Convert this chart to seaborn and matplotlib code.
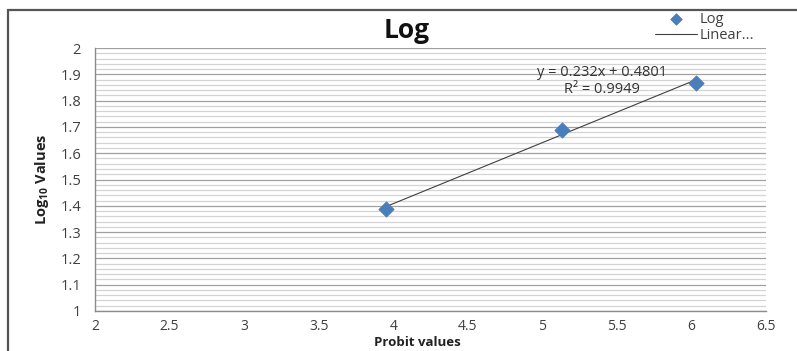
import matplotlib
matplotlib.use("Agg")
import matplotlib.pyplot as plt
from matplotlib.patches import Rectangle
from matplotlib.ticker import MultipleLocator
import seaborn as sns
import pandas as pd
import numpy as np

# data
probit = [3.95, 5.13, 6.03]
log_vals = [1.389, 1.688, 1.868]

# trendline as printed on the chart
slope = 0.232
intercept = 0.4801
r2 = 0.9949

x_ticks = [2, 2.5, 3, 3.5, 4, 4.5, 5, 5.5, 6, 6.5]
y_ticks = [1, 1.1, 1.2, 1.3, 1.4, 1.5, 1.6, 1.7, 1.8, 1.9, 2]

sns.set_theme(style="white")
plt.rcParams["font.family"] = ["Open Sans", "DejaVu Sans"]
plt.rcParams["mathtext.default"] = "regular"

df = pd.DataFrame({"Probit": probit, "Log": log_vals})
trend_x = np.array([min(probit), max(probit)])
trend = pd.DataFrame({"x": trend_x, "y": slope * trend_x + intercept})

fig = plt.figure(figsize=(7.97, 3.51), dpi=100)
ax = fig.add_axes([0.1192, 0.1140, 0.8419, 0.7492])

# outer chart border
fig.patches.append(Rectangle((8 / 797, -0.1), 1.2, 1 - 10 / 351 + 0.1,
                             transform=fig.transFigure, fill=False,
                             edgecolor="#555555", linewidth=1.6))

# grid
ax.yaxis.set_major_locator(MultipleLocator(0.1))
ax.yaxis.set_minor_locator(MultipleLocator(0.02))
ax.grid(which="major", axis="y", color="#a0a0a0", linewidth=0.9)
ax.grid(which="minor", axis="y", color="#d4d4d4", linewidth=0.9)
ax.grid(False, axis="x")
ax.set_axisbelow(True)

sns.lineplot(data=trend, x="x", y="y", ax=ax, color="#404040",
             linewidth=0.8, label="Linear...")
sns.scatterplot(data=df, x="Probit", y="Log", ax=ax, marker="D", s=60,
                color="#4a7ebb", edgecolor="#4a7ebb", label="Log", zorder=3)

ax.set_xlim(2, 6.5)
ax.set_ylim(1, 2)
ax.set_xticks(x_ticks)
ax.set_xticklabels([f"{v:g}" for v in x_ticks])
ax.set_yticks(y_ticks)
ax.set_yticklabels([f"{v:g}" for v in y_ticks])

for s in ["top", "right"]:
    ax.spines[s].set_visible(False)
for s in ["left", "bottom"]:
    ax.spines[s].set_color("#8c8c8c")
    ax.spines[s].set_linewidth(1)

ax.tick_params(axis="both", which="major", direction="out", length=5,
               color="#8c8c8c", labelsize=10.5, labelcolor="#404040")
ax.tick_params(axis="y", which="minor", length=0)
ax.tick_params(axis="x", pad=1, labelsize=10)
ax.tick_params(axis="y", pad=5)

ax.set_xlabel("Probit values", fontsize=9.5, fontweight="bold", color="#222222",
              va="bottom")
ax.xaxis.set_label_coords(0.48, -0.1445)
ax.set_ylabel("Log$_{10}$ Values", fontsize=10.5, fontweight="bold", color="#222222")
ax.yaxis.set_label_coords(-0.066, 0.5)

fig.text(407 / 797, 1 - 31 / 351, "Log", fontsize=19, fontweight="bold",
         ha="center", va="center", color="#111111")

eq_x = 2 + (602 - 95) / 671 * 4.5
ax.text(eq_x, 2 - (72 - 48) / 263, f"y = {slope}x + {intercept}",
        fontsize=10.5, ha="center", va="center", color="#333333")
ax.text(eq_x, 2 - (89 - 48) / 263, f"R² = {r2}",
        fontsize=10.5, ha="center", va="center", color="#333333")

handles, labels = ax.get_legend_handles_labels()
order = [labels.index("Log"), labels.index("Linear...")]
ax.legend([handles[i] for i in order], [labels[i] for i in order],
          loc="upper left", bbox_to_anchor=(655 / 797, 1 - 12 / 351),
          bbox_transform=fig.transFigure, frameon=False, fontsize=10.5,
          handlelength=2.9, handletextpad=0.15, labelspacing=0.05,
          borderaxespad=0, borderpad=0, labelcolor="#404040",
          markerscale=0.75)

fig.savefig("out.png", dpi=100)
